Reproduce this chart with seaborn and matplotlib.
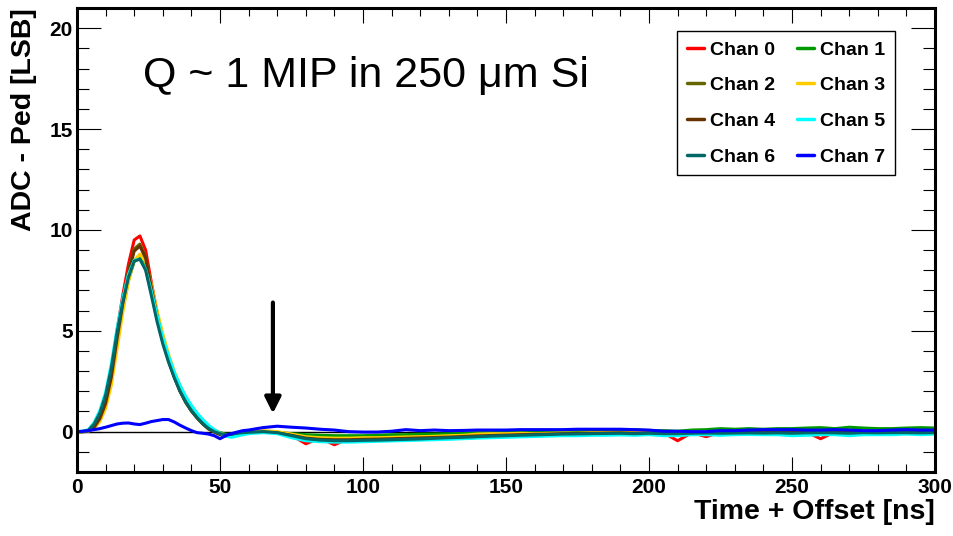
import matplotlib
matplotlib.use("Agg")
import matplotlib.pyplot as plt
from matplotlib.ticker import MultipleLocator
import seaborn as sns
import pandas as pd

# ---------------- data ----------------
channels = ["Chan 0", "Chan 1", "Chan 2", "Chan 3", "Chan 4", "Chan 5", "Chan 6", "Chan 7"]
colors = ["#ff0000", "#009900", "#666600", "#ffcc00", "#663300", "#00ffff", "#006666", "#0000ff"]

time_pulse = list(range(0, 60, 2))      # ns
time_tail = list(range(60, 301, 5))     # ns

pulse = {
    "Chan 0": [0.00, 0.00, 0.05, 0.30, 0.80, 1.60, 3.00, 5.00, 6.75, 8.30, 9.50, 9.70, 9.00, 7.40, 5.90,
               4.60, 3.60, 2.75, 2.05, 1.50, 1.05, 0.70, 0.40, 0.15, 0.00, -0.12, -0.20, -0.18, -0.12, -0.08],
    "Chan 1": [0.00, 0.00, 0.04, 0.25, 0.70, 1.45, 2.70, 4.50, 6.10, 7.50, 8.45, 8.60, 8.15, 6.90, 5.60,
               4.50, 3.60, 2.80, 2.15, 1.60, 1.15, 0.80, 0.50, 0.25, 0.08, -0.05, -0.12, -0.15, -0.12, -0.10],
    "Chan 2": [0.00, 0.00, 0.04, 0.28, 0.75, 1.50, 2.85, 4.75, 6.45, 7.95, 9.05, 9.30, 8.65, 7.15, 5.70,
               4.45, 3.50, 2.70, 2.00, 1.45, 1.02, 0.68, 0.38, 0.14, 0.00, -0.12, -0.18, -0.16, -0.12, -0.08],
    "Chan 3": [0.00, 0.00, 0.02, 0.15, 0.50, 1.15, 2.30, 4.10, 5.90, 7.45, 8.50, 8.80, 8.45, 7.30, 6.00,
               4.85, 3.85, 3.00, 2.30, 1.70, 1.25, 0.85, 0.52, 0.25, 0.06, -0.08, -0.15, -0.15, -0.12, -0.10],
    "Chan 4": [0.00, 0.00, 0.03, 0.22, 0.65, 1.40, 2.70, 4.60, 6.35, 7.85, 8.95, 9.20, 8.60, 7.15, 5.75,
               4.50, 3.55, 2.72, 2.02, 1.47, 1.03, 0.68, 0.38, 0.13, -0.02, -0.15, -0.22, -0.18, -0.12, -0.08],
    "Chan 5": [0.00, 0.02, 0.10, 0.45, 1.05, 1.95, 3.35, 5.10, 6.60, 7.80, 8.50, 8.55, 8.05, 6.95, 5.75,
               4.65, 3.75, 2.95, 2.30, 1.75, 1.30, 0.92, 0.60, 0.32, 0.10, -0.08, -0.22, -0.28, -0.22, -0.15],
    "Chan 6": [0.00, 0.01, 0.07, 0.38, 0.92, 1.80, 3.15, 4.90, 6.40, 7.65, 8.45, 8.55, 8.00, 6.75, 5.45,
               4.35, 3.45, 2.68, 2.02, 1.48, 1.05, 0.70, 0.40, 0.16, 0.00, -0.10, -0.15, -0.12, -0.08, -0.05],
    "Chan 7": [0.00, 0.02, 0.05, 0.10, 0.15, 0.22, 0.30, 0.38, 0.42, 0.43, 0.38, 0.35, 0.42, 0.50, 0.55,
               0.60, 0.60, 0.48, 0.32, 0.18, 0.05, -0.05, -0.08, -0.12, -0.20, -0.35, -0.20, -0.10, -0.02, 0.05],
}

tail = {
    "Chan 0": [-0.05, 0.02, -0.05, -0.18, -0.60, -0.32, -0.65, -0.35, -0.33, -0.32, -0.30, -0.28, -0.27,
               -0.25, -0.22, -0.20, -0.18, -0.15, -0.14, -0.12, -0.10, -0.09, -0.08, -0.07, -0.06, -0.05,
               -0.05, -0.06, -0.04, -0.05, -0.45, -0.05, -0.25, -0.03, -0.02, -0.02, -0.03, -0.02, -0.03,
               -0.02, -0.35, -0.02, -0.03, -0.02, -0.02, -0.01, -0.02, -0.01, -0.02],
    "Chan 1": [-0.05, 0.00, -0.05, -0.10, -0.15, -0.18, -0.20, -0.20, -0.20, -0.18, -0.15, -0.15, -0.12,
               -0.12, -0.10, -0.08, -0.05, -0.05, -0.02, 0.00, 0.00, 0.02, 0.00, 0.05, 0.03, 0.05,
               0.05, 0.10, 0.05, 0.05, 0.02, 0.08, 0.10, 0.15, 0.12, 0.15, 0.12, 0.15, 0.15,
               0.18, 0.20, 0.15, 0.22, 0.18, 0.15, 0.15, 0.18, 0.20, 0.18],
    "Chan 2": [-0.04, 0.00, -0.04, -0.16, -0.30, -0.36, -0.38, -0.38, -0.37, -0.35, -0.33, -0.31, -0.29,
               -0.27, -0.24, -0.22, -0.19, -0.17, -0.15, -0.13, -0.12, -0.10, -0.09, -0.08, -0.07, -0.06,
               -0.05, -0.06, -0.05, -0.06, -0.06, -0.04, -0.03, -0.03, -0.02, -0.02, -0.03, -0.02, -0.02,
               -0.01, 0.00, -0.01, 0.00, 0.01, 0.00, 0.01, 0.00, 0.01, 0.00],
    "Chan 3": [-0.05, 0.05, 0.00, -0.12, -0.25, -0.30, -0.32, -0.32, -0.30, -0.30, -0.28, -0.26, -0.25,
               -0.23, -0.20, -0.18, -0.12, -0.10, -0.10, -0.08, -0.10, -0.08, -0.06, -0.08, -0.05, -0.04,
               -0.03, -0.05, -0.02, -0.04, -0.03, -0.02, -0.01, 0.00, -0.02, 0.00, 0.01, 0.00, -0.01,
               0.01, 0.02, 0.00, 0.01, 0.02, 0.01, 0.00, 0.02, 0.01, 0.01],
    "Chan 4": [-0.06, -0.02, -0.06, -0.18, -0.32, -0.38, -0.40, -0.40, -0.38, -0.37, -0.35, -0.33, -0.31,
               -0.29, -0.27, -0.24, -0.21, -0.19, -0.17, -0.15, -0.13, -0.12, -0.10, -0.09, -0.08, -0.07,
               -0.06, -0.08, -0.06, -0.07, -0.07, -0.05, -0.04, -0.04, -0.03, -0.03, -0.04, -0.03, -0.03,
               -0.02, -0.02, -0.03, -0.02, -0.01, -0.02, -0.01, -0.02, -0.01, -0.02],
    "Chan 5": [-0.10, -0.05, -0.10, -0.30, -0.45, -0.50, -0.52, -0.52, -0.50, -0.48, -0.46, -0.44, -0.42,
               -0.40, -0.38, -0.35, -0.32, -0.30, -0.28, -0.26, -0.24, -0.22, -0.20, -0.20, -0.18, -0.18,
               -0.16, -0.18, -0.15, -0.20, -0.20, -0.15, -0.15, -0.18, -0.15, -0.14, -0.15, -0.15, -0.20,
               -0.18, -0.15, -0.15, -0.20, -0.15, -0.15, -0.15, -0.12, -0.15, -0.12],
    "Chan 6": [-0.03, 0.00, -0.05, -0.20, -0.35, -0.42, -0.45, -0.45, -0.43, -0.42, -0.40, -0.38, -0.36,
               -0.33, -0.30, -0.28, -0.25, -0.22, -0.20, -0.18, -0.16, -0.14, -0.12, -0.11, -0.10, -0.09,
               -0.08, -0.10, -0.08, -0.10, -0.10, -0.08, -0.07, -0.08, -0.07, -0.06, -0.07, -0.06, -0.08,
               -0.06, -0.05, -0.06, -0.08, -0.05, -0.06, -0.05, -0.05, -0.06, -0.05],
    "Chan 7": [0.08, 0.20, 0.27, 0.22, 0.18, 0.12, 0.08, 0.00, -0.02, -0.02, 0.02, 0.10, 0.05,
               0.08, 0.05, 0.06, 0.08, 0.08, 0.08, 0.10, 0.10, 0.10, 0.10, 0.12, 0.12, 0.12,
               0.12, 0.10, 0.08, 0.02, 0.02, 0.00, 0.00, 0.05, 0.05, 0.08, 0.10, 0.10, 0.10,
               0.08, 0.08, 0.10, 0.08, 0.05, 0.05, 0.08, 0.10, 0.08, 0.08],
}

x_ticks_major = [0, 50, 100, 150, 200, 250, 300]
y_ticks_major = [0, 5, 10, 15, 20]
annotation_text = "Q ~ 1 MIP in 250 \u03bcm Si"

# ---------------- build table ----------------
rows = []
for ch in channels:
    ts = time_pulse + time_tail
    vs = pulse[ch] + tail[ch]
    assert len(ts) == len(vs), ch
    for t, v in zip(ts, vs):
        rows.append({"time": t, "adc": v, "channel": ch})
df = pd.DataFrame(rows)

# ---------------- style ----------------
sns.set_theme(style="ticks")
plt.rcParams["font.family"] = ["Liberation Sans", "DejaVu Sans"]
plt.rcParams["text.color"] = "black"
plt.rcParams["axes.labelcolor"] = "black"
plt.rcParams["xtick.color"] = "black"
plt.rcParams["ytick.color"] = "black"
plt.rcParams["xtick.labelcolor"] = "black"
plt.rcParams["ytick.labelcolor"] = "black"
plt.rcParams["axes.edgecolor"] = "black"
plt.rcParams["axes.linewidth"] = 2.2

fig = plt.figure(figsize=(9.54, 5.36), dpi=100)
ax = fig.add_axes([0.0807, 0.1194, 0.8994, 0.8657])

ax.axhline(0, color="black", lw=1.0, zorder=1)

palette = dict(zip(channels, colors))
sns.lineplot(data=df, x="time", y="adc", hue="channel", hue_order=channels,
             palette=palette, estimator=None, sort=False, lw=2.2, ax=ax, legend=True, zorder=2)

ax.set_xlim(0, 300)
ax.set_ylim(-2, 21)
ax.set_xticks(x_ticks_major)
ax.set_yticks(y_ticks_major)
ax.xaxis.set_minor_locator(MultipleLocator(10))
ax.yaxis.set_minor_locator(MultipleLocator(1))

ax.tick_params(which="both", direction="in", top=True, right=True, color="black", width=0.8,
               labelcolor="black")
ax.tick_params(axis="y", which="major", length=17, pad=3)
ax.tick_params(axis="y", which="minor", length=8.5)
ax.tick_params(axis="x", which="major", length=11, pad=4)
ax.tick_params(axis="x", which="minor", length=5.5)
for lab in ax.get_xticklabels() + ax.get_yticklabels():
    lab.set_fontweight("bold")
    lab.set_fontsize(15)
    lab.set_color("black")
for sp in ax.spines.values():
    sp.set_linewidth(2.2)
    sp.set_color("black")
ax.grid(False)

ax.set_xlabel("Time + Offset [ns]", fontsize=20.5, fontweight="bold", loc="right", color="black")
ax.xaxis.set_label_coords(1.0, -0.058)
ax.xaxis.label.set_va("top")
ax.set_ylabel("ADC - Ped [LSB]", fontsize=20.5, fontweight="bold", loc="top", color="black")
ax.yaxis.set_label_coords(-0.047, 1.0)

ax.text(23.1, 17.08, annotation_text, fontsize=31, va="baseline", ha="left", color="black")

ax.annotate("", xy=(68.5, 0.9), xytext=(68.5, 6.4),
            arrowprops=dict(arrowstyle="-|>", lw=3, color="black", mutation_scale=24,
                            shrinkA=0, shrinkB=0))

old = ax.get_legend()
handles = old.legend_handles
labels = [t.get_text() for t in old.get_texts()]
old.remove()
# row-major order for a 2-column legend (matplotlib fills column by column)
order = [0, 2, 4, 6, 1, 3, 5, 7]
handles = [handles[i] for i in order]
labels = [labels[i] for i in order]
leg = ax.legend(handles, labels, ncol=2, loc="upper right", bbox_to_anchor=(0.953, 0.950),
                borderaxespad=0, frameon=True, fancybox=False, framealpha=1, edgecolor="black",
                handlelength=0.9, handletextpad=0.3, columnspacing=1.1, labelspacing=0.93,
                borderpad=0.5, prop={"family": "Liberation Sans", "weight": "bold", "size": 14})
leg.get_frame().set_linewidth(1.0)
for h in leg.legend_handles:
    h.set_linewidth(2.5)
for t in leg.get_texts():
    t.set_color("black")

fig.savefig("out.png", dpi=100, facecolor="white")
